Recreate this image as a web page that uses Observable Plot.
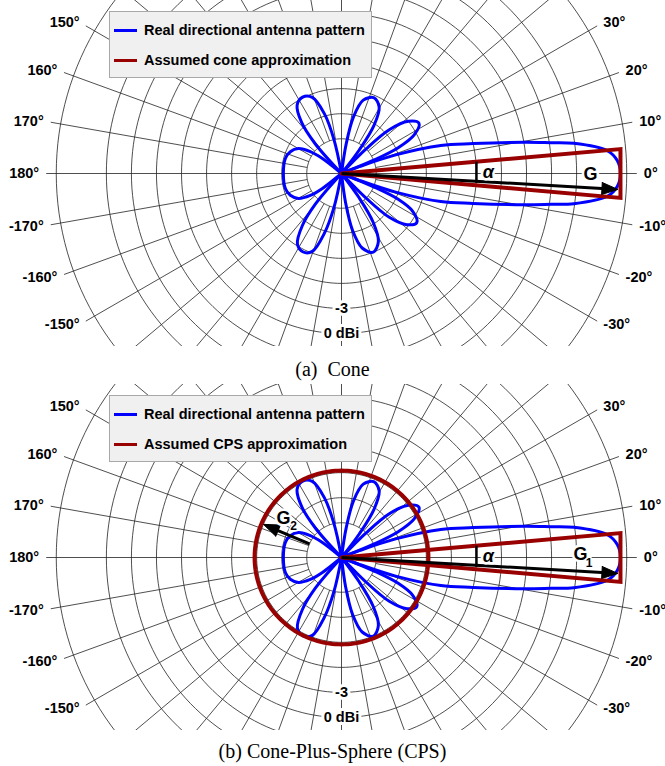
<!DOCTYPE html>
<html><head><meta charset="utf-8">
<script src="https://cdn.jsdelivr.net/npm/d3@7"></script>
<script src="https://cdn.jsdelivr.net/npm/@observablehq/plot@0.6"></script>
<style>
body{margin:0;background:#fff;}
#root{position:relative;width:665px;height:766px;overflow:hidden;font-family:"Liberation Sans",Arial,sans-serif;background:#fff}
.panel{position:absolute;left:0;width:665px;height:346px;overflow:hidden;}
.panel svg{overflow:hidden;display:block;background:transparent}
.legend{position:absolute;left:109px;top:11px;width:263px;height:67px;background:#f0f0f0;border:1px solid #a8a8a8;box-sizing:border-box;}
.legend .row{position:absolute;left:0;height:20px;display:flex;align-items:center;font-weight:bold;font-size:14.5px;color:#000;white-space:nowrap}
.legend .sw{width:23px;height:3px;margin-left:4px;margin-right:7px}
.cap{position:absolute;left:0;width:665px;text-align:center;font-family:"Liberation Serif","Times New Roman",serif;font-size:20px;line-height:20px;color:#000;white-space:pre}
</style></head>
<body>
<div id="root">
  <div class="panel" id="p1" style="top:0px"></div>
  <div class="cap" style="top:359px">(a)  Cone</div>
  <div class="panel" id="p2" style="top:384px"></div>
  <div class="cap" style="top:741px">(b) Cone-Plus-Sphere (CPS)</div>
</div>
<script>
// ---------------- data ----------------
const ringDB = [-15, -12, -9, -6, -3, 0, 3, 6, 9, 15];      // grid circles, dBi
const angleTicks = [0,10,20,30,40,50,60,70,80,90,100,110,120,130,140,150,160,170,180,
  -170,-160,-150,-140,-130,-120,-110,-100,-90,-80,-70,-60,-50,-40,-30,-20,-10];
const radialLabels = [{db: -3, text: "-3"}, {db: 0, text: "0 dBi"}];
const legendSeries = ["Real directional antenna pattern"];
const legendApprox = {cone: "Assumed cone approximation", cps: "Assumed CPS approximation"};

// antenna pattern lobes: [angle deg, gain dBi]  (gain below the pole value => pole)
const lobeMain = [[-22,-20],[-21,-16.8],[-19,-12.3],[-15.8,-6.8],[-12.8,-3.0],[-9.7,3.0],[-8.4,6.1],[-7.4,8.9],[-4.9,12.8],[-2.7,13.9],[0,14.25],[2.7,13.9],[4.9,12.8],[7.4,8.9],[8.4,6.1],[9.7,3.0],[12.8,-3.0],[15.8,-6.8],[19,-12.3],[21,-16.8],[22,-20]];
const lobeA1 = [[21,-20],[22.5,-15.0],[24.5,-11.7],[28,-9.3],[33,-8.1],[38,-9.0],[42.5,-11.4],[45,-15.0],[47,-20]];
const lobeA2 = [[-21,-20],[-22.5,-15.0],[-24.5,-11.7],[-28,-9.5],[-33,-8.4],[-38,-9.2],[-42.5,-11.4],[-45,-15.0],[-47,-20]];
const lobeB1 = [[51,-20],[53,-15.6],[56,-12.2],[60.5,-10.0],[67,-9.3],[73.5,-10.0],[78,-12.2],[81,-15.6],[83,-20]];
const lobeB2 = [[-52,-20],[-54,-15.6],[-57,-12.2],[-61.5,-9.9],[-68,-9.0],[-74.5,-9.9],[-79,-12.2],[-82,-15.6],[-84,-20]];
const lobeC1 = [[100,-20],[102.5,-15.0],[106,-11.7],[111,-9.4],[117,-8.9],[123,-9.4],[128,-11.4],[131.5,-14.4],[134,-20]];
const lobeC2 = [[-100,-20],[-102.5,-15.0],[-106,-11.7],[-110.5,-9.2],[-116,-8.7],[-122,-9.2],[-127,-11.4],[-130.5,-14.4],[-133,-20]];
const lobeBack = [[140,-20],[142,-16.2],[145,-14.6],[150,-13.2],[157,-12.5],[165,-12.2],[180,-12.2],[195,-12.2],[203,-12.5],[210,-13.2],[215,-14.6],[218,-16.2],[220,-20]];

const coneGainDB = 14.25;      // G (G1)
const coneHalfAngle = 5;       // alpha, deg
const arrowAngle = -3.3;       // direction of the G arrow
const arrowGainDB = 14.0;
const alphaMarkDB = -3;        // where alpha is marked
const sphereGainDB = -8.75;    // G2
const g2Angle = 157;
const g2FromDB = -15, g2ToDB = -9.0;

// ---------------- polar helpers ----------------
const DB_POLE = -19.16;                 // gain value at the pole
const PX_PER_DB = 8.35;
const rho = db => Math.max(0, db - DB_POLE);
const rad = a => a * Math.PI / 180;
const P = (a, db) => ({x: rho(db) * Math.cos(rad(a)), y: rho(db) * Math.sin(rad(a))});
const SPOKE_END_DB = 16.2, LABEL_DB = 17.05;
const GRID = "#222";
const BLUE = "#0000ff", RED = "#990000";

const lobes = {lobeMain, lobeA1, lobeA2, lobeB1, lobeB2, lobeC1, lobeC2, lobeBack};
const patternPts = Object.entries(lobes).flatMap(([name, pts]) => pts.map(([a, db]) => ({lobe: name, ...P(a, db)})));

function arrowHead(tip, ang, len, wid) {
  const ux = Math.cos(rad(ang)), uy = Math.sin(rad(ang));
  const bx = tip.x - len * ux, by = tip.y - len * uy;
  return [{x: bx - wid/2*uy, y: by + wid/2*ux}, tip, {x: bx + wid/2*uy, y: by - wid/2*ux}, {x: bx - wid/2*uy, y: by + wid/2*ux}];
}

function makePanel(kind) {
  const u = px => px / PX_PER_DB;
  const marks = [];
  // rings
  const ringPts = ringDB.flatMap(db => d3.range(0, 361, 2).map(a => ({ring: db, ...P(a, db)})));
  marks.push(Plot.line(ringPts, {x: "x", y: "y", z: "ring", stroke: GRID, strokeWidth: 0.8}));
  // spokes
  const spokes = angleTicks.map(a => {
    const i = P(a, a % 90 === 0 ? -100 : ringDB[0]), o = P(a, SPOKE_END_DB);
    return {x1: i.x, y1: i.y, x2: o.x, y2: o.y};
  });
  marks.push(Plot.link(spokes, {x1: "x1", y1: "y1", x2: "x2", y2: "y2", stroke: GRID, strokeWidth: 0.8}));
  // angle labels (only those inside the panel frame)
  const lab = angleTicks.map(a => ({a, ...P(a, LABEL_DB), t: a + "°"})).filter(d => Math.abs(d.y) < u(165));
  const common = {x: "x", y: "y", text: "t", fontWeight: "bold", fontSize: 14.5, fill: "#000", fontFamily: "Liberation Sans, Arial, sans-serif"};
  marks.push(Plot.text(lab.filter(d => Math.abs(d.a) < 90), {...common, textAnchor: "start"}));
  marks.push(Plot.text(lab.filter(d => Math.abs(d.a) > 90), {...common, textAnchor: "end"}));
  // radial labels
  marks.push(Plot.text(radialLabels.map(d => ({...P(-90, d.db), t: d.text})), {...common, stroke: "white", strokeWidth: 6}));
  // antenna pattern
  marks.push(Plot.line(patternPts, {x: "x", y: "y", z: "lobe", curve: "catmull-rom", stroke: BLUE, strokeWidth: 3}));
  // sphere
  if (kind === "cps") {
    const sp = d3.range(0, 361, 2).map(a => P(a, sphereGainDB));
    marks.push(Plot.line(sp, {x: "x", y: "y", stroke: RED, strokeWidth: 4}));
  }
  // cone
  const rG = rho(coneGainDB), t = Math.tan(rad(coneHalfAngle));
  const cone = [{x: 0, y: 0}, {x: rG, y: rG * t}, {x: rG, y: -rG * t}, {x: 0, y: 0}];
  marks.push(Plot.line(cone, {x: "x", y: "y", stroke: RED, strokeWidth: 4, strokeLinejoin: "miter", strokeMiterlimit: 10}));
  // alpha marker
  const rm = rho(alphaMarkDB);
  marks.push(Plot.link([{x1: rm, y1: rm * t, x2: rm, y2: -rm * Math.tan(rad(-arrowAngle)) - u(1.5)}], {x1: "x1", y1: "y1", x2: "x2", y2: "y2", stroke: "#000", strokeWidth: 2.5}));
  // G arrow
  const tip = P(arrowAngle, arrowGainDB);
  const shaftEnd = P(arrowAngle, arrowGainDB - 12 / PX_PER_DB);
  marks.push(Plot.link([{x1: 0, y1: 0, x2: shaftEnd.x, y2: shaftEnd.y}], {x1: "x1", y1: "y1", x2: "x2", y2: "y2", stroke: "#000", strokeWidth: 3}));
  marks.push(Plot.line(arrowHead(tip, arrowAngle, u(16), u(12)), {x: "x", y: "y", fill: "#000", stroke: "#000", strokeWidth: 1}));
  // G2 arrow
  if (kind === "cps") {
    const t2 = P(g2Angle, g2ToDB), s2 = P(g2Angle, g2FromDB), e2 = P(g2Angle, g2ToDB - 12 / PX_PER_DB);
    marks.push(Plot.link([{x1: s2.x, y1: s2.y, x2: e2.x, y2: e2.y}], {x1: "x1", y1: "y1", x2: "x2", y2: "y2", stroke: "#000", strokeWidth: 3}));
    marks.push(Plot.line(arrowHead(t2, g2Angle, u(16), u(12)), {x: "x", y: "y", fill: "#000", stroke: "#000", strokeWidth: 1}));
  }
  // labels G, alpha
  const lbl = {fontWeight: "bold", fill: "#000", stroke: "white", strokeWidth: 5, fontFamily: "Liberation Sans, Arial, sans-serif"};
  const gPos = P(0, 10.66);
  marks.push(Plot.text([{...gPos, t: "G"}], {x: "x", y: "y", text: "t", fontSize: 18, dx: kind === "cps" ? -10 : 0, dy: kind === "cps" ? -3 : 1, ...lbl}));
  if (kind === "cps") {
    marks.push(Plot.text([{...gPos, t: "1"}], {x: "x", y: "y", text: "t", fontSize: 12, dx: -1.5, dy: 6, ...lbl, strokeWidth: 3}));
  }
  const aPos = P(0.6, -1.56);
  marks.push(Plot.text([{...aPos, t: "α"}], {x: "x", y: "y", text: "t", fontSize: 18, fontStyle: "italic", ...lbl}));
  if (kind === "cps") {
    const g2p = P(146, -10.79);
    marks.push(Plot.text([{...g2p, t: "G"}], {x: "x", y: "y", text: "t", fontSize: 18, ...lbl}));
    marks.push(Plot.text([{...g2p, t: "2"}], {x: "x", y: "y", text: "t", fontSize: 12, dx: 10, dy: 8, ...lbl, strokeWidth: 3}));
  }
  return Plot.plot({
    width: 665, height: 346,
    margin: 0, marginTop: 0, marginRight: 0, marginBottom: 0, marginLeft: 0,
    x: {domain: [u(-341), u(324)], range: [0, 665], axis: null},
    y: {domain: [u(-173), u(173)], range: [346, 0], axis: null},
    style: {background: "transparent", overflow: "hidden"},
    marks
  });
}

function legend(host, approxText) {
  const box = document.createElement("div");
  box.className = "legend";
  const rows = [[BLUE, legendSeries[0], 8], [RED, approxText, 38]];
  for (const [c, txt, top] of rows) {
    const r = document.createElement("div");
    r.className = "row"; r.style.top = top + "px";
    const sw = document.createElement("span"); sw.className = "sw"; sw.style.background = c;
    const tx = document.createElement("span"); tx.textContent = txt;
    r.append(sw, tx); box.append(r);
  }
  host.append(box);
}

const p1 = document.getElementById("p1"), p2 = document.getElementById("p2");
p1.append(makePanel("cone")); legend(p1, legendApprox.cone);
p2.append(makePanel("cps")); legend(p2, legendApprox.cps);
</script>
</body></html>
